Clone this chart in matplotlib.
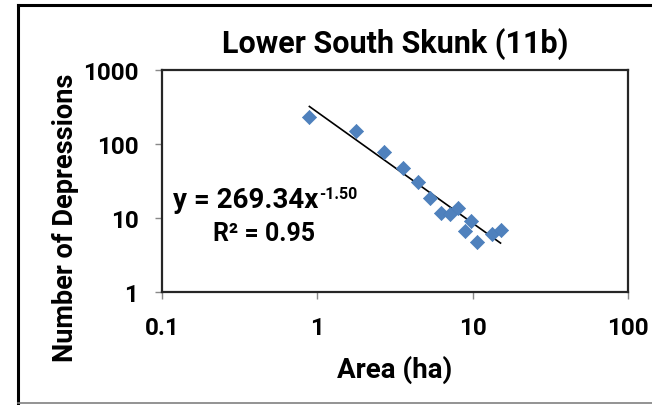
import numpy as np
import matplotlib
matplotlib.use("Agg")
import matplotlib.pyplot as plt
from matplotlib.lines import Line2D

plt.rcParams['font.family'] = ['Roboto', 'DejaVu Sans']

# data
area = [0.889, 1.778, 2.667, 3.556, 4.444, 5.333, 6.222, 7.111, 8.0, 8.889, 9.778, 10.667, 13.333, 15.111]
count = [229, 149, 77, 47, 31, 18.5, 11.6, 11.2, 13.8, 6.7, 9.2, 4.8, 6.1, 6.9]
coef_a = 269.34
coef_b = -1.50
r2 = 0.95
title = "Lower South Skunk (11b)"
xlabel = "Area (ha)"
ylabel = "Number of Depressions"
xticks = [0.1, 1, 10, 100]
xticklabels = ["0.1", "1", "10", "100"]
yticks = [1, 10, 100, 1000]
yticklabels = ["1", "10", "100", "1000"]

fig = plt.figure(figsize=(6.52, 4.06), dpi=100)
ax = fig.add_axes([162/652, 1-293/406, (628-162)/652, (293-71)/406])

ax.set_xscale('log')
ax.set_yscale('log')
ax.set_xlim(0.1, 100)
ax.set_ylim(1, 1000)

ax.scatter(area, count, marker='D', s=52, color='#4F81BD', edgecolors='#4A7EBB', linewidths=0.5, zorder=3)

xf = np.array([min(area), max(area)])
ax.plot(xf, coef_a * xf ** coef_b, color='black', lw=1.2, zorder=2)

ax.set_xticks(xticks)
ax.set_xticklabels(xticklabels)
ax.set_yticks(yticks)
ax.set_yticklabels(yticklabels)
ax.minorticks_off()
ax.tick_params(axis='both', which='major', direction='out', length=5, width=1,
               color='#898989', labelsize=17.5, pad=12)
for lbl in ax.get_xticklabels() + ax.get_yticklabels():
    lbl.set_fontweight('bold')
ax.tick_params(axis='x', pad=12)

for sp in ax.spines.values():
    sp.set_color('#262626')
    sp.set_linewidth(1.6)

ax.set_xlabel(xlabel, fontsize=20, fontweight='bold', labelpad=12)
ax.set_ylabel(ylabel, fontsize=19.5, fontweight='bold')
ax.yaxis.set_label_coords((79-162)/466, (293-218)/222)
ax.set_title(title, fontsize=22, fontweight='bold', pad=13)

eq = fig.text(173/652, 1-208/406, 'y = %.2fx' % coef_a, fontsize=20, fontweight='bold',
              ha='left', va='baseline')
ax.annotate('%.2f' % coef_b, xy=(1, 0), xycoords=eq, xytext=(0.5, 10.5),
            textcoords='offset points', fontsize=11.5, fontweight='bold',
            ha='left', va='baseline')
fig.text(264/652, 1-241/406, 'R² = %.2f' % r2, fontsize=18, fontweight='bold',
         ha='center', va='baseline')

# outer chart border
fig.add_artist(Line2D([18/652, 18/652], [1-6/406, 1-404/406], transform=fig.transFigure, color='black', lw=2.2))
fig.add_artist(Line2D([18/652, 1.0], [1-6/406, 1-6/406], transform=fig.transFigure, color='black', lw=2.2))
fig.add_artist(Line2D([18/652, 1.0], [1-404/406, 1-404/406], transform=fig.transFigure, color='#808080', lw=1.2))

fig.savefig('out.png', dpi=100)
